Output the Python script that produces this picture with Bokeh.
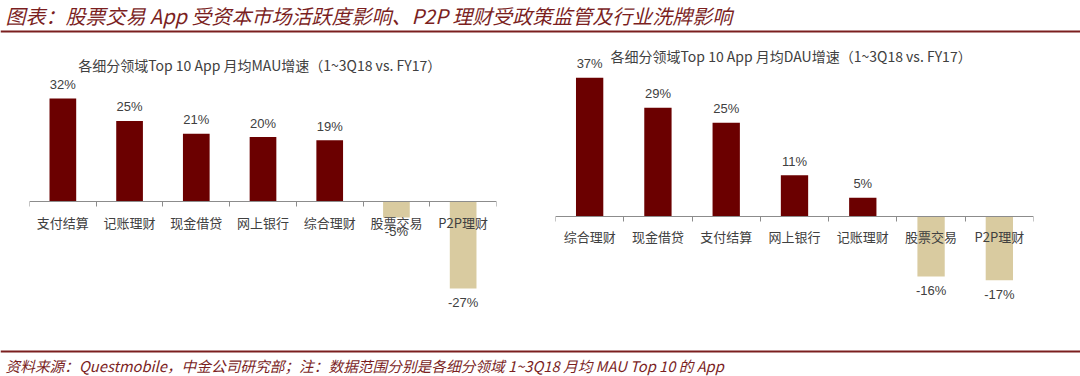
from bokeh.plotting import figure
from bokeh.layouts import column, row
from bokeh.models import (Range1d, LinearAxis, FixedTicker, Label, Span,
                          ColumnDataSource)
from bokeh.embed import file_html
from bokeh.resources import INLINE

# ---------------- data ----------------
main_title = "图表：股票交易 App 受资本市场活跃度影响、P2P 理财受政策监管及行业洗牌影响"
footer_text = "资料来源：Questmobile，中金公司研究部；注：数据范围分别是各细分领域 1~3Q18 月均 MAU Top 10 的 App"

mau_title = "各细分领域Top 10 App 月均MAU增速（1~3Q18 vs. FY17）"
mau_categories = ["支付结算", "记账理财", "现金借贷", "网上银行", "综合理财", "股票交易", "P2P理财"]
mau_growth = [32, 25, 21, 20, 19, -5, -27]

dau_title = "各细分领域Top 10 App 月均DAU增速（1~3Q18 vs. FY17）"
dau_categories = ["综合理财", "现金借贷", "支付结算", "网上银行", "记账理财", "股票交易", "P2P理财"]
dau_growth = [37, 29, 25, 11, 5, -16, -17]

POS = "#6B0000"
NEG = "#D9CBA0"
TXT = "#404040"
RED = "#7B1F1F"
CJK = "Noto Sans CJK SC"


def bar_chart(title, cats, vals, width, height, borders, yr, title_pos, standoff):
    n = len(cats)
    p = figure(width=width, height=height, output_backend="svg", toolbar_location=None,
               x_axis_type=None, y_axis_type=None,
               x_range=Range1d(0, n), y_range=Range1d(*yr),
               min_border_left=borders[0], min_border_right=borders[1],
               min_border_top=borders[2], min_border_bottom=borders[3])
    p.outline_line_color = None
    p.background_fill_color = "white"
    p.border_fill_color = "white"

    xs = [i + 0.5 for i in range(n)]
    src = ColumnDataSource(dict(
        x=xs, top=vals,
        color=[POS if v >= 0 else NEG for v in vals],
        label=[f"{v}%" for v in vals],
        off=[-14 if v >= 0 else 14 for v in vals],
    ))
    p.vbar(x="x", top="top", bottom=0, width=0.4, fill_color="color",
           line_color=None, source=src)
    p.text(x="x", y="top", text="label", y_offset="off", source=src,
           text_align="center", text_baseline="middle",
           text_font_size="13px", text_color=TXT,
           text_font={"value": "Liberation Sans"})

    ax = LinearAxis(ticker=FixedTicker(ticks=xs, minor_ticks=list(range(n + 1))))
    ax.fixed_location = 0
    ax.major_label_overrides = {x: c for x, c in zip(xs, cats)}
    ax.major_tick_out = 0
    ax.major_tick_in = 0
    ax.minor_tick_out = 5
    ax.minor_tick_in = 0
    ax.minor_tick_line_color = "#8C8C8C"
    ax.axis_line_color = "#8C8C8C"
    ax.axis_line_width = 1
    ax.major_label_standoff = standoff
    ax.major_label_text_font = CJK
    ax.major_label_text_font_size = "13px"
    ax.major_label_text_color = TXT
    p.add_layout(ax, "below")

    p.add_layout(Label(x=title_pos[0], y=title_pos[1], text=title,
                       text_align="center", text_baseline="middle",
                       text_font=CJK, text_font_size="14px", text_color=TXT))
    return p


left = bar_chart(mau_title, mau_categories, mau_growth, 540, 312,
                 (29, 44, 4, 34), (-35.1, 50.0), (3.45, 42.5), 7)
right = bar_chart(dau_title, dau_categories, dau_growth, 540, 312,
                  (15, 47, 4, 34), (-26.13, 46.93), (3.45, 42.7), 5)

# header
head = figure(width=1080, height=36, output_backend="svg", toolbar_location=None,
              x_axis_type=None, y_axis_type=None,
              x_range=Range1d(0, 1080), y_range=Range1d(0, 36),
              min_border=0)
head.outline_line_color = None
head.grid.visible = False
head.add_layout(Label(x=5, y=21.5, text=main_title, text_baseline="middle",
                      text_font=CJK, text_font_style="italic",
                      text_font_size="20px", text_color=RED))
head.add_layout(Span(location=5, dimension="width", line_color=RED, line_width=2))

# footer
foot = figure(width=1080, height=28, output_backend="svg", toolbar_location=None,
              x_axis_type=None, y_axis_type=None,
              x_range=Range1d(0, 1080), y_range=Range1d(0, 28),
              min_border=0)
foot.outline_line_color = None
foot.grid.visible = False
foot.add_layout(Span(location=25, dimension="width", line_color=RED, line_width=2))
foot.add_layout(Label(x=5, y=11, text=footer_text, text_baseline="middle",
                      text_font=CJK, text_font_style="italic",
                      text_font_size="14.7px", text_color=RED))

p = column(head, row(left, right), foot)

open("out.html", "w").write(file_html(p, INLINE))
